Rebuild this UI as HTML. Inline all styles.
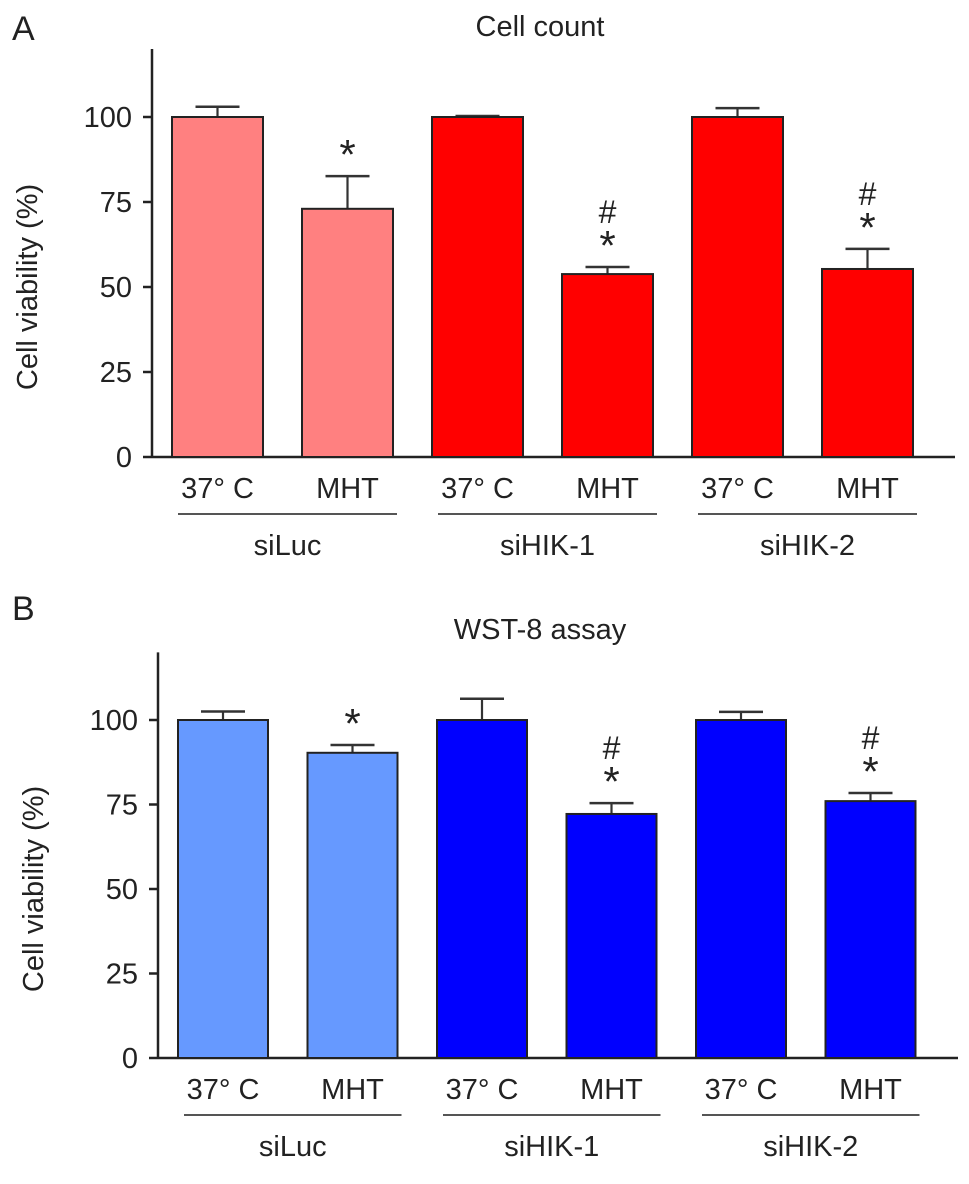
<!DOCTYPE html>
<html><head><meta charset="utf-8"><style>
body{margin:0;background:#fff}
svg text{font-family:"Liberation Sans",Arial,sans-serif;fill:#222}
</style></head><body>
<svg id="c" width="969" height="1179"></svg>
<script>
const groups = ["siLuc","siHIK-1","siHIK-2"];
const conds = ["37° C","MHT","37° C","MHT","37° C","MHT"];
const ticks = [0,25,50,75,100];
const aVals = [100,73,100,53.8,100,55.3];
const aErr = [103,82.6,100.3,55.9,102.6,61.2];
const aMarks = ["","*","","#*","","#*"];
const bVals = [100,90.3,100,72.2,100,76];
const bErr = [102.5,92.6,106.3,75.4,102.4,78.4];
const bMarks = ["","*","","#*","","#*"];
const NS="http://www.w3.org/2000/svg";
const svg=document.getElementById('c');
function mk(t,a,p){const e=document.createElementNS(NS,t);for(const k in a)e.setAttribute(k,a[k]);(p||svg).appendChild(e);return e;}
function panel(cfg){
  const g=mk('g',{});
  
  
  const y=v=>cfg.y0-(v/100)*(cfg.y0-cfg.y100);
  const bw=cfg.bw;
  const ya=mk('line',{x1:cfg.ax,y1:y(0),x2:cfg.ax,y2:y(120),stroke:'#222','stroke-width':2.5},g);
  
  const xa=mk('line',{x1:cfg.ax,y1:y(0),x2:cfg.xend,y2:y(0),stroke:'#222','stroke-width':2.5},g);
  
  ticks.forEach(t=>{
    mk('line',{x1:cfg.ax-9,y1:y(t),x2:cfg.ax,y2:y(t),stroke:'#222','stroke-width':2.5},g);
    const tx=mk('text',{x:cfg.ax-20,y:y(t)+10,'font-size':29,'text-anchor':'end'},g);
    tx.textContent=t;
    
  });
  const yt=mk('text',{x:0,y:0,'font-size':29,'text-anchor':'middle',transform:`translate(${cfg.ytX},${y(50)}) rotate(-90)`},g);
  yt.textContent='Cell viability (%)';
  
  const ti=mk('text',{x:cfg.titleX,y:cfg.titleY,'font-size':29,'text-anchor':'middle'},g);
  ti.textContent=cfg.title;
  
  const pl=mk('text',{x:12,y:cfg.letterY,'font-size':34},g);
  pl.textContent=cfg.letter;
  
  cfg.vals.forEach((v,i)=>{
    const x=cfg.x0+i*cfg.step;
    const cx=x+bw/2;
    const col=(i<2)?cfg.light:cfg.dark;
    const eb=mk('line',{x1:cx,y1:y(v),x2:cx,y2:y(cfg.err[i]),stroke:'#333','stroke-width':2.2},g);
    
    mk('line',{x1:cx-22,y1:y(cfg.err[i]),x2:cx+22,y2:y(cfg.err[i]),stroke:'#333','stroke-width':2.5},g);
    const r=mk('rect',{x:x,y:y(v),width:bw,height:y(0)-y(v),fill:col,stroke:'#222','stroke-width':2},g);
    
    
    const m=cfg.marks[i];
    if(m.includes('*')){
      const s=mk('text',{x:cx,y:y(cfg.err[i])-7,'font-size':42,'text-anchor':'middle'},g);
      s.textContent='*';
      
    }
    if(m.includes('#')){
      const h=mk('text',{x:cx,y:y(cfg.err[i])-44,'font-size':32,'text-anchor':'middle'},g);
      h.textContent='#';
      
    }
    const lb=mk('text',{x:cx,y:y(0)+41,'font-size':29,'text-anchor':'middle'},g);
    lb.textContent=conds[i];
    
  });
  groups.forEach((gname,k)=>{
    const x1=cfg.x0+2*k*cfg.step+6, x2=cfg.x0+(2*k+1)*cfg.step+bw+4;
    mk('line',{x1:x1,y1:y(0)+57,x2:x2,y2:y(0)+57,stroke:'#555','stroke-width':2},g);
    const gl=mk('text',{x:(x1+x2)/2,y:y(0)+98,'font-size':29,'text-anchor':'middle'},g);
    gl.textContent=gname;
    
  });
}
panel({name:'panel-a-cell-count',letter:'A',letterY:40,title:'Cell count',titleX:540,titleY:36,ytX:37,
  ax:152,y0:457,y100:117,x0:172,step:130,bw:91,xend:955,vals:aVals,err:aErr,marks:aMarks,light:'#ff8080',dark:'#ff0000'});
panel({name:'panel-b-wst8',letter:'B',letterY:620,title:'WST-8 assay',titleX:540,titleY:639,ytX:43,
  ax:158,y0:1058,y100:720,x0:178,step:129.5,bw:90,xend:958,vals:bVals,err:bErr,marks:bMarks,light:'#6699ff',dark:'#0000ff'});
</script>
</body></html>
